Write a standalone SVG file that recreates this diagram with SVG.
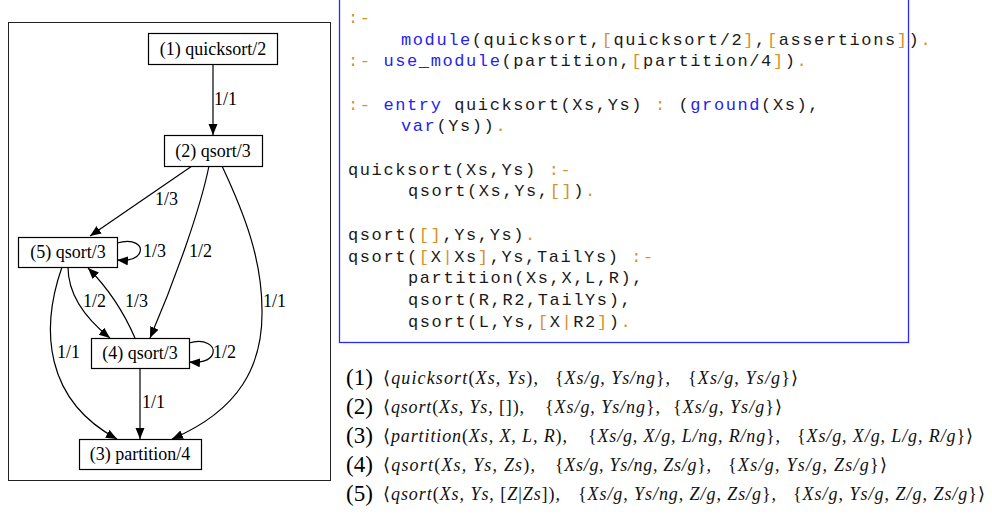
<svg xmlns="http://www.w3.org/2000/svg" width="992" height="514" viewBox="0 0 992 514">
<style>
.bg{fill:#ffffff}
.frame{fill:none;stroke:#222;stroke-width:1}
.node rect{fill:#fff;stroke:#000;stroke-width:1.2}
.node text{font-family:"Liberation Serif","Times New Roman",serif;font-size:18px;fill:#000;text-anchor:middle}
.edge{fill:none;stroke:#000;stroke-width:1.2}
.lbl{font-family:"Liberation Serif","Times New Roman",serif;font-size:18px;fill:#000}
.code{font-family:"Liberation Mono","DejaVu Sans Mono",monospace;font-size:17px;letter-spacing:1.6px;fill:#1a1a1a}
.o{fill:#d4922a}
.k{fill:#2323f0}
.num{font-family:"Liberation Serif","DejaVu Serif",serif;font-size:23px;fill:#000}
.m{font-family:"Liberation Serif","DejaVu Serif",serif;font-style:italic;font-size:18px;fill:#111}
.r{font-style:normal}
</style>
<defs>
<marker id="ah" markerUnits="userSpaceOnUse" markerWidth="12" markerHeight="10" refX="11" refY="4.5" orient="auto">
<path d="M0,0 L11,4.5 L0,9 z" fill="#000"/>
</marker>
</defs>
<rect class="bg" x="0" y="0" width="992" height="514"/>

<!-- left graph panel -->
<rect class="frame" x="8.5" y="22.5" width="322" height="458"/>

<g id="connectors">
<path class="edge" d="M213,64 L213,135" marker-end="url(#ah)"/>
<path class="edge" d="M192,166 L90,236" marker-end="url(#ah)"/>
<path class="edge" d="M209,166 C200,210 175,280 150,338" marker-end="url(#ah)"/>
<path class="edge" d="M222,166 C245,215 262,260 262,310 C263,365 240,410 172,439" marker-end="url(#ah)"/>
<path class="edge" d="M117,243 C135,238 142,246 140,252 C138,258 130,261 117,260" marker-end="url(#ah)"/>
<path class="edge" d="M68,267 C68,295 85,318 110,338" marker-end="url(#ah)"/>
<path class="edge" d="M135,338 C125,315 110,290 88,268" marker-end="url(#ah)"/>
<path class="edge" d="M62,267 C40,330 45,400 117,439" marker-end="url(#ah)"/>
<path class="edge" d="M189,343 C205,338 215,346 213,353 C211,360 203,363 189,362" marker-end="url(#ah)"/>
<path class="edge" d="M140,368 L140,439" marker-end="url(#ah)"/>
<text class="lbl" x="214" y="105">1/1</text>
<text class="lbl" x="155" y="205">1/3</text>
<text class="lbl" x="143" y="257">1/3</text>
<text class="lbl" x="189" y="257">1/2</text>
<text class="lbl" x="263" y="307">1/1</text>
<text class="lbl" x="83" y="307">1/2</text>
<text class="lbl" x="125" y="307">1/3</text>
<text class="lbl" x="57" y="358">1/1</text>
<text class="lbl" x="213" y="358">1/2</text>
<text class="lbl" x="142" y="408">1/1</text>
</g>

<g id="n1" class="node"><rect x="148.5" y="33.5" width="129" height="31"/><text x="213" y="55">(1) quicksort/2</text></g>
<g id="n2" class="node"><rect x="164.5" y="135.5" width="98" height="31"/><text x="213" y="157">(2) qsort/3</text></g>
<g id="n5" class="node"><rect x="18.5" y="237.5" width="99" height="30"/><text x="68" y="258">(5) qsort/3</text></g>
<g id="n4" class="node"><rect x="91.5" y="338.5" width="98" height="30"/><text x="140" y="359">(4) qsort/3</text></g>
<g id="n3" class="node"><rect x="79.5" y="439.5" width="122" height="30"/><text x="140" y="460">(3) partition/4</text></g>

<!-- code panel -->
<rect x="339.5" y="-2" width="569" height="344.5" fill="none" stroke="#2a2aff" stroke-width="1.3"/>
<g id="code" class="code" xml:space="preserve">
<text x="348" y="23"><tspan class="o">:-</tspan></text>
<text x="401" y="45"><tspan class="k">module</tspan>(quicksort,<tspan class="o">[</tspan>quicksort/2<tspan class="o">]</tspan>,<tspan class="o">[</tspan>assertions<tspan class="o">]</tspan>)<tspan class="o">.</tspan></text>
<text x="348" y="66"><tspan class="o">:-</tspan> <tspan class="k">use_module</tspan>(partition,<tspan class="o">[</tspan>partition/4<tspan class="o">]</tspan>)<tspan class="o">.</tspan></text>
<text x="348" y="110"><tspan class="o">:-</tspan> <tspan class="k">entry</tspan> quicksort(Xs,Ys) <tspan class="o">:</tspan> (<tspan class="k">ground</tspan>(Xs),</text>
<text x="401" y="131"><tspan class="k">var</tspan>(Ys))<tspan class="o">.</tspan></text>
<text x="348" y="175">quicksort(Xs,Ys) <tspan class="o">:-</tspan></text>
<text x="408" y="196">qsort(Xs,Ys,<tspan class="o">[]</tspan>)<tspan class="o">.</tspan></text>
<text x="348" y="240">qsort(<tspan class="o">[]</tspan>,Ys,Ys)<tspan class="o">.</tspan></text>
<text x="348" y="262">qsort(<tspan class="o">[</tspan>X<tspan class="o">|</tspan>Xs<tspan class="o">]</tspan>,Ys,TailYs) <tspan class="o">:-</tspan></text>
<text x="408" y="283">partition(Xs,X,L,R),</text>
<text x="408" y="305">qsort(R,R2,TailYs),</text>
<text x="408" y="327">qsort(L,Ys,<tspan class="o">[</tspan>X<tspan class="o">|</tspan>R2<tspan class="o">]</tspan>)<tspan class="o">.</tspan></text>
</g>

<!-- bottom legend -->
<g id="legend">
<text class="num" x="346" y="385">(1)</text>
<text class="m" x="383" y="384" textLength="155" lengthAdjust="spacing"><tspan class="r">⟨</tspan>quicksort<tspan class="r">(</tspan>Xs, Ys<tspan class="r">)</tspan>,</text>
<text class="m" x="555" y="384" textLength="115" lengthAdjust="spacing"><tspan class="r">{</tspan>Xs/g, Ys/ng<tspan class="r">}</tspan>,</text>
<text class="m" x="688" y="384" textLength="110" lengthAdjust="spacing"><tspan class="r">{</tspan>Xs/g, Ys/g<tspan class="r">}⟩</tspan></text>

<text class="num" x="346" y="414">(2)</text>
<text class="m" x="383" y="413" textLength="141" lengthAdjust="spacing"><tspan class="r">⟨</tspan>qsort<tspan class="r">(</tspan>Xs, Ys, <tspan class="r">[])</tspan>,</text>
<text class="m" x="545" y="413" textLength="115" lengthAdjust="spacing"><tspan class="r">{</tspan>Xs/g, Ys/ng<tspan class="r">}</tspan>,</text>
<text class="m" x="673" y="413" textLength="109" lengthAdjust="spacing"><tspan class="r">{</tspan>Xs/g, Ys/g<tspan class="r">}⟩</tspan></text>

<text class="num" x="346" y="443">(3)</text>
<text class="m" x="383" y="442" textLength="184" lengthAdjust="spacing"><tspan class="r">⟨</tspan>partition<tspan class="r">(</tspan>Xs, X, L, R<tspan class="r">)</tspan>,</text>
<text class="m" x="588" y="442" textLength="192" lengthAdjust="spacing"><tspan class="r">{</tspan>Xs/g, X/g, L/ng, R/ng<tspan class="r">}</tspan>,</text>
<text class="m" x="797" y="442" textLength="176" lengthAdjust="spacing"><tspan class="r">{</tspan>Xs/g, X/g, L/g, R/g<tspan class="r">}⟩</tspan></text>

<text class="num" x="346" y="472">(4)</text>
<text class="m" x="383" y="471" textLength="152" lengthAdjust="spacing"><tspan class="r">⟨</tspan>qsort<tspan class="r">(</tspan>Xs, Ys, Zs<tspan class="r">)</tspan>,</text>
<text class="m" x="555" y="471" textLength="156" lengthAdjust="spacing"><tspan class="r">{</tspan>Xs/g, Ys/ng, Zs/g<tspan class="r">}</tspan>,</text>
<text class="m" x="728" y="471" textLength="159" lengthAdjust="spacing"><tspan class="r">{</tspan>Xs/g, Ys/g, Zs/g<tspan class="r">}⟩</tspan></text>

<text class="num" x="346" y="501">(5)</text>
<text class="m" x="383" y="500" textLength="177" lengthAdjust="spacing"><tspan class="r">⟨</tspan>qsort<tspan class="r">(</tspan>Xs, Ys, <tspan class="r">[</tspan>Z<tspan class="r">|</tspan>Zs<tspan class="r">])</tspan>,</text>
<text class="m" x="578" y="500" textLength="198" lengthAdjust="spacing"><tspan class="r">{</tspan>Xs/g, Ys/ng, Z/g, Zs/g<tspan class="r">}</tspan>,</text>
<text class="m" x="793" y="500" textLength="192" lengthAdjust="spacing"><tspan class="r">{</tspan>Xs/g, Ys/g, Z/g, Zs/g<tspan class="r">}⟩</tspan></text>
</g>
</svg>
